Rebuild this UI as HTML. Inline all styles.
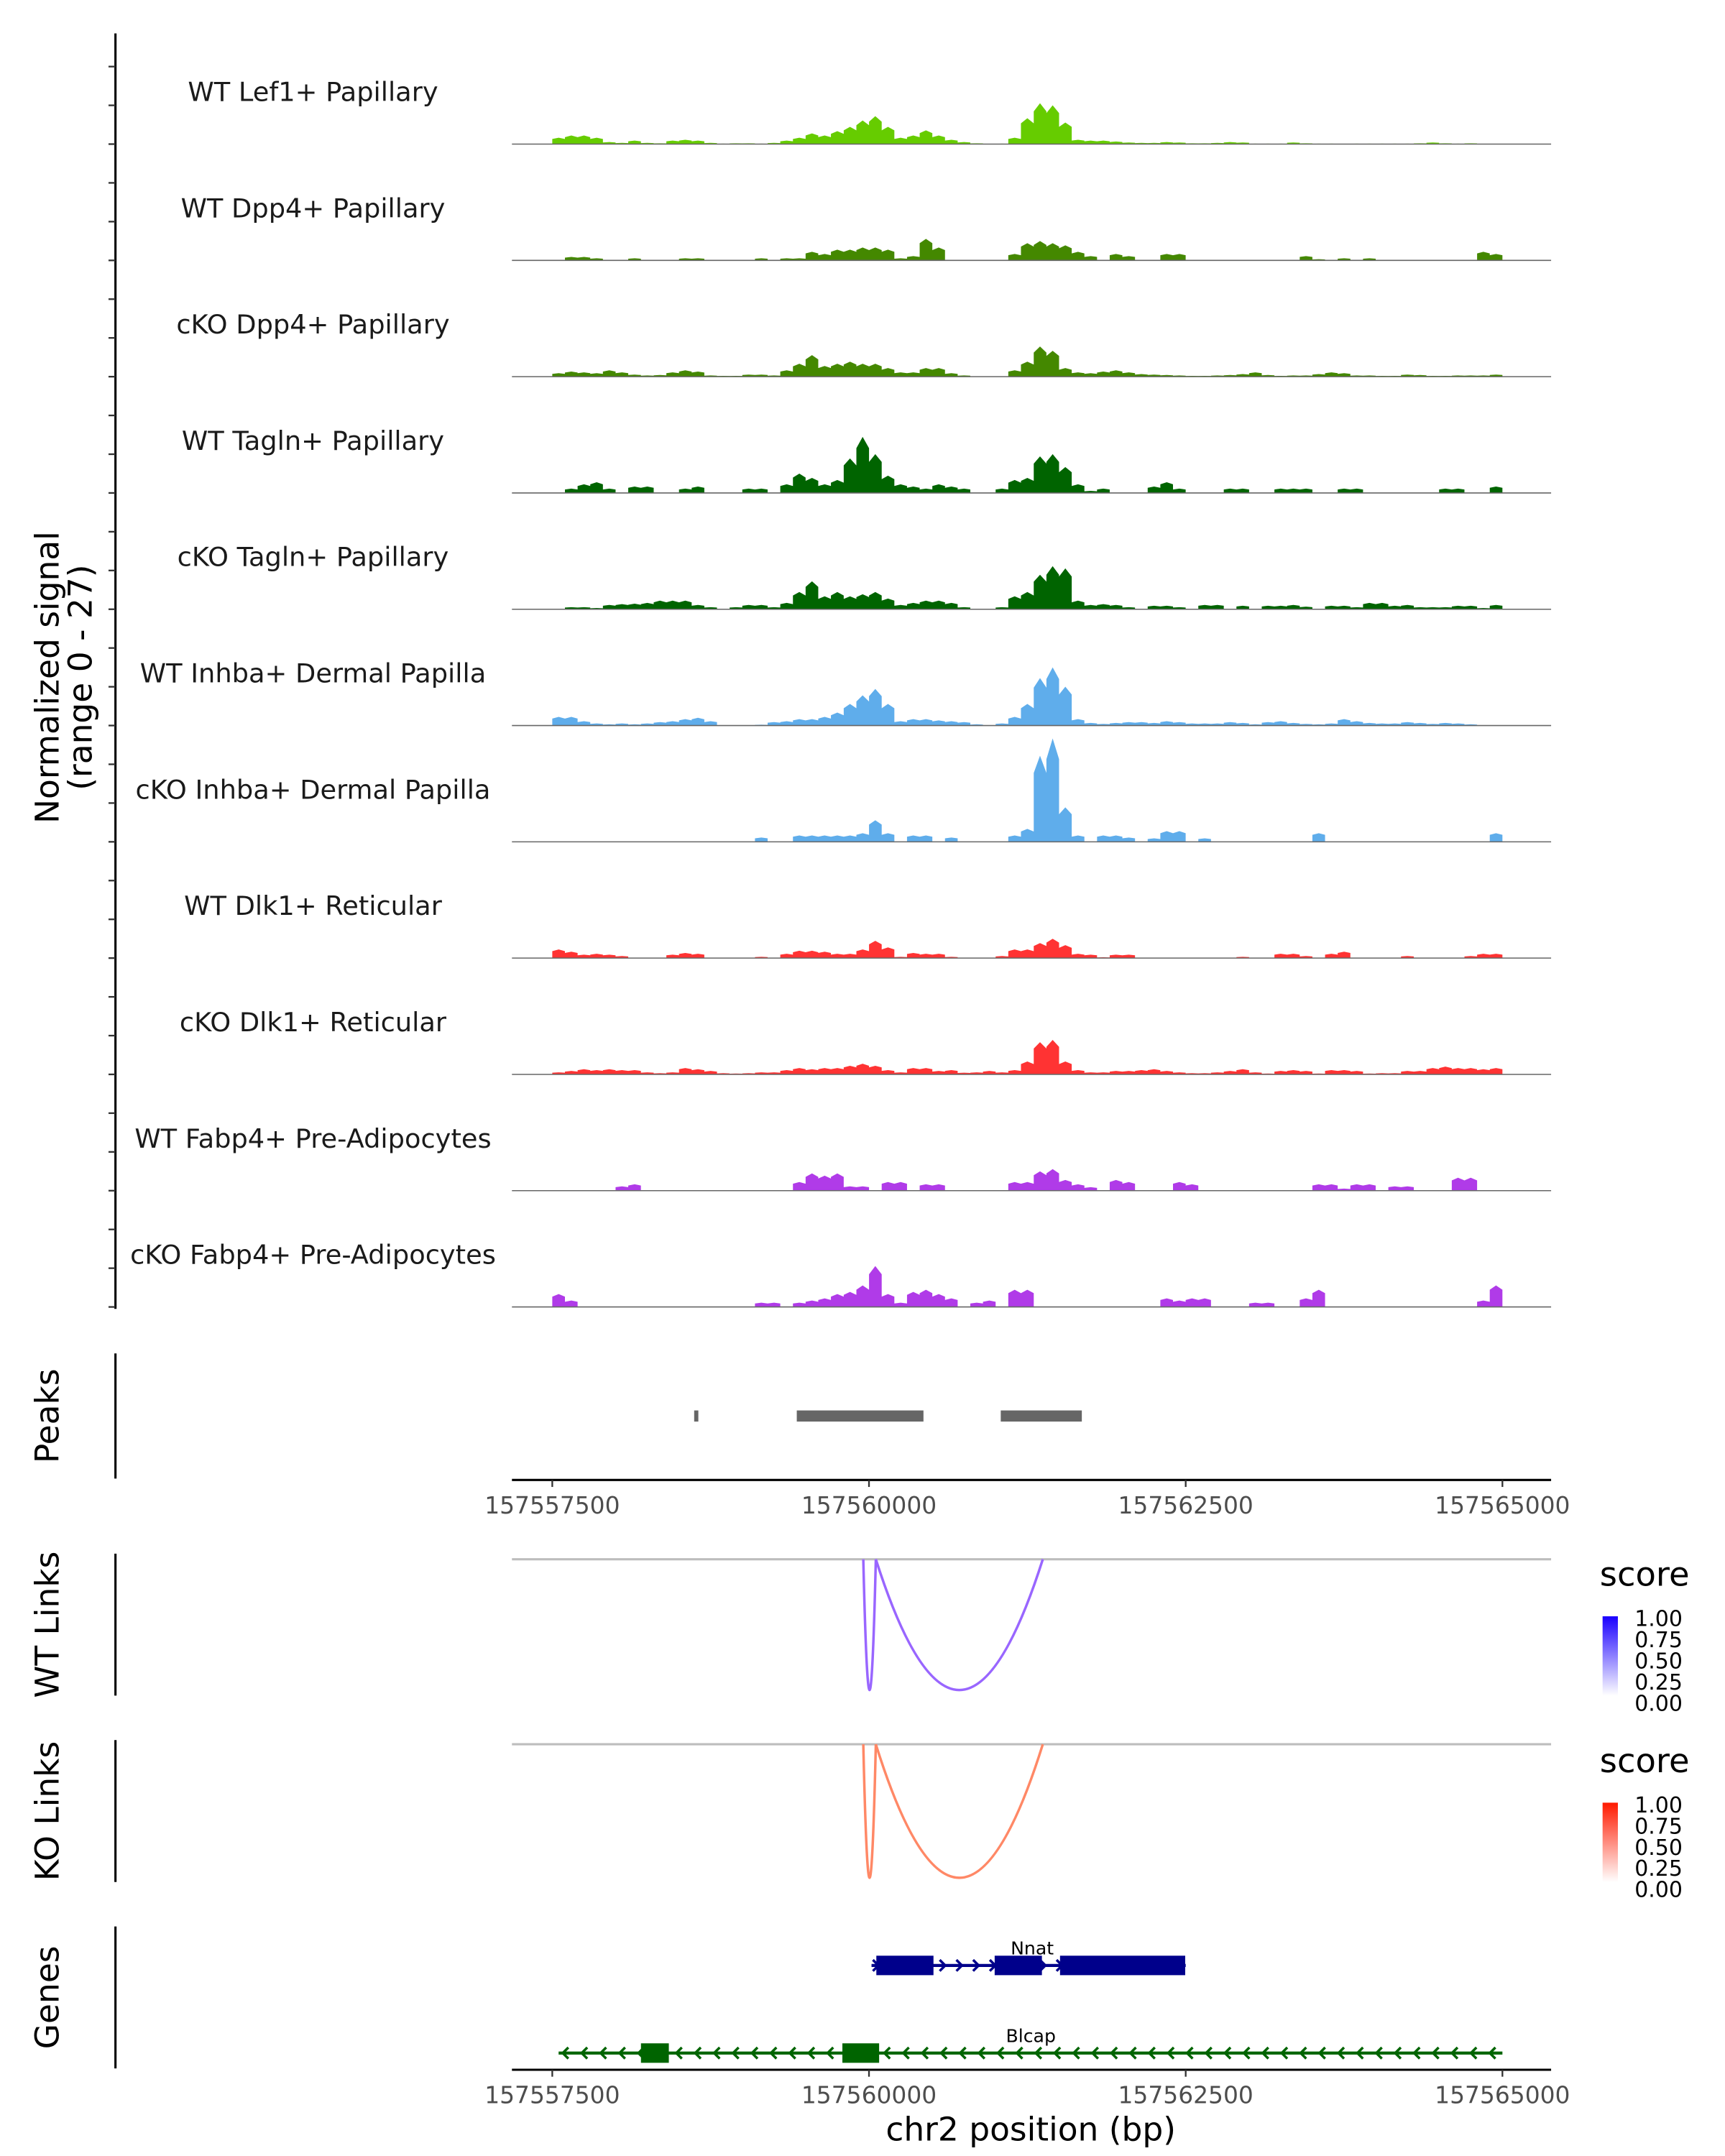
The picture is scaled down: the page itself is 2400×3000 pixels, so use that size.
<!DOCTYPE html>
<html><head><meta charset="utf-8"><style>
html,body{margin:0;padding:0;background:#fff;}
svg{display:block;font-family:"DejaVu Sans","Liberation Sans",sans-serif;}
</style></head><body>
<svg id="chart" xmlns="http://www.w3.org/2000/svg" width="2400" height="3000" viewBox="0 0 1240 1550">
<g id="tracks"></g>
<g id="yaxis"></g>
<text transform="translate(42,487) rotate(-90)" text-anchor="middle" font-size="23.5">Normalized signal</text>
<text transform="translate(66,487) rotate(-90)" text-anchor="middle" font-size="23.5">(range 0 - 27)</text>
<g id="peaks"></g>
<g id="links"></g>
<g id="genes"></g>
<text x="741" y="1539" text-anchor="middle" font-size="23.5">chr2 position (bp)</text>
</svg>
<script>
const trackNames = ["WT Lef1+ Papillary","WT Dpp4+ Papillary","cKO Dpp4+ Papillary","WT Tagln+ Papillary","cKO Tagln+ Papillary","WT Inhba+ Dermal Papilla","cKO Inhba+ Dermal Papilla","WT Dlk1+ Reticular","cKO Dlk1+ Reticular","WT Fabp4+ Pre-Adipocytes","cKO Fabp4+ Pre-Adipocytes"];
const trackColors = ["#66cc00","#448800","#448800","#006400","#006400","#5fadeb","#5fadeb","#ff3333","#ff3333","#b03be8","#b03be8"];
const binStart = 157557500;
const binSize = 100;
const sigLef1WT = [1.5,2,2,1.5,0.5,0.3,0.8,0.3,0.2,0.8,1,0.8,0.3,0.1,0.2,0.2,0.1,0.3,0.8,1.5,2.5,2,3,4,5.5,6.5,4,1.5,2,3.2,2,1,0.5,0.2,0,0.1,1.5,6,9.5,9,5,1,0.8,0.8,0.6,0.4,0.3,0.3,0.5,0.4,0.2,0.2,0.3,0.5,0.4,0.1,0.1,0.1,0.4,0.2,0.1,0.1,0,0.1,0.1,0.1,0.1,0.1,0.2,0.4,0.2,0.1,0.2,0,0];
const sigDpp4WT = [0,0.8,0.8,0.5,0,0,0.5,0,0,0,0.5,0.5,0,0,0,0,0.5,0,0.5,0.5,2,1.5,2.5,2.5,3,3,2.5,0.5,1,5,3,0,0,0,0,0,1.5,4,4.5,4,3.5,2,1,0,1.5,1,0,0,1.5,1.5,0,0,0,0,0,0,0,0,0,1,0.3,0,0.5,0,0.5,0,0,0,0,0,0,0,0,2,1.5];
const sigDpp4KO = [0.8,1.2,1,0.8,1.5,1,0.5,0.3,0.4,1,1.5,1.2,0.3,0.2,0.2,0.5,0.5,0.3,1.5,3,5,2.5,3,3.5,3,3,2,1,1,2,2,0.8,0.3,0,0,0.1,1.5,3.5,7,6,2,1,0.8,1.2,1.5,1,0.6,0.5,0.4,0.3,0.2,0.2,0.3,0.4,0.6,1,0.4,0.2,0.3,0.3,0.6,1,0.8,0.3,0.3,0.2,0.2,0.5,0.4,0.2,0.2,0.3,0.3,0.3,0.5];
const sigTaglnWT = [0,1,2,2.5,1,0,1.5,1.5,0,0,1,1.5,0,0,0,1,1,0,2,4.5,3.5,2,3,8,13,9,4,2,1.5,1,2,1.5,1,0,0,1,3,3.5,8.5,9,6,2,0.5,1,0,0,0,1.5,2.5,1,0,0,0,1,1,0,0,1,1,1,0,0,1,1,0,0,0,0,0,0,1,1,0,0,1.5];
const sigTaglnKO = [0,0.5,0.5,0.3,1,1.2,1.3,1.5,2,2,2,1,0.5,0,0.5,1,1,0.5,1.5,4,6.5,3,4,3,3.5,4,2.5,1,1.5,2,2,1.5,0.5,0,0,0.5,3,4,8,10,9.5,2,1,1.2,1,0.5,0,0.8,0.8,0.5,0,1,1,0,0.8,0,0.8,0.8,1,0.6,0,0.8,0.8,0.5,1.5,1.5,0.8,1,0.5,0.5,0.5,0.8,0.8,0.3,1];
const sigInhbaWT = [2,2,1,0.5,0.3,0.5,0.3,0.5,0.8,1,1.5,1.8,1,0,0,0,0.2,0.8,1,1.5,1.5,2,3,5,7,8.5,5,1,1.5,1.5,1.2,1,0.8,0.3,0,0.5,2,5,11,13.5,9,1.5,0.6,0.4,0.6,0.8,0.8,0.6,1,0.8,0.5,0.5,0.5,0.8,0.6,0.3,0.8,1,0.6,0.4,0.3,0.5,1.5,1,0.6,0.5,0.5,0.8,0.6,0.4,0.6,0.5,0.3,0,0];
const sigInhbaKO = [0,0,0,0,0,0,0,0,0,0,0,0,0,0,0,0,1,0,0,1.5,1.5,1.5,1.5,1.5,2,5,2,0,1.5,1.5,0,1,0,0,0,0,1.5,3,20,24,8,1.5,0,1.5,1.5,1,0,0.8,2.5,2.5,0,0.8,0,0,0,0,0,0,0,0,2,0,0,0,0,0,0,0,0,0,0,0,0,0,2];
const sigDlk1WT = [2,1.5,0.8,1,0.8,0.5,0,0,0,0.8,1.2,1,0,0,0,0,0.3,0,1,1.7,1.7,1.5,1,1,2,4,2.5,0.3,1.2,1,1,0.3,0,0,0,0.5,2,2,3.5,4.5,3,1,0.8,0.2,0.8,0.8,0,0,0,0,0,0,0,0,0.3,0,0,1,1,0.5,0,1,1.5,0,0,0,0,0.5,0,0,0,0,0.5,1,1];
const sigDlk1KO = [0.5,0.8,1.2,1,1.2,1,1,0.5,0.3,0.5,1.5,1.2,0.8,0.3,0.2,0.3,0.5,0.5,1,1.5,1.2,1.5,1.5,2,2.5,2,1,0.5,1.5,1.5,0.8,1,0.4,0.5,0.8,0.5,1,3,7.5,8,3,1,0.5,0.5,0.8,0.8,1,1.2,0.8,0.5,0.3,0.3,0.5,0.8,1.2,0.5,0.2,0.8,1,0.8,0.2,1,1,0.8,0.2,0.3,0.3,0.8,0.8,1.5,1.8,1.5,1.5,1.2,1.5];
const sigFabp4WT = [0,0,0,0,0,1,1.5,0,0,0,0,0,0,0,0,0,0,0,0,2,4,3.5,4,1,1,0,2,2,0,1.5,1.5,0,0,0,0,0,2,2,4.5,5,2.5,1.5,0.8,0,2.5,2,0,0,0,2,1.5,0,0,0,0,0,0,0,0,0,1.5,1.5,0.5,1.5,1.5,0,1,1,0,0,0,3,3,0,0];
const sigFabp4KO = [3,1.5,0,0,0,0,0,0,0,0,0,0,0,0,0,0,1,1,0,1,1.5,2,3,3.5,5,9.5,3,1,3.5,4,3,2,0,1,1.5,0,4,4,0,0,0,0,0,0,0,0,0,0,2,1.5,2,2,0,0,0,1,1,0,0,2,4,0,0,0,0,0,0,0,0,0,0,0,0,1.5,5];
const signals = [sigLef1WT,sigDpp4WT,sigDpp4KO,sigTaglnWT,sigTaglnKO,sigInhbaWT,sigInhbaKO,sigDlk1WT,sigDlk1KO,sigFabp4WT,sigFabp4KO];
const xTicks = [157557500,157560000,157562500,157565000];
const peakStarts = [157558620,157559430,157561040];
const peakEnds = [157558650,157560430,157561680];
const wtLinkStarts = [157559955,157560054];
const wtLinkEnds = [157560054,157561372];
const wtLinkScores = [0.6,0.6];
const koLinkStarts = [157559955,157560054];
const koLinkEnds = [157560054,157561372];
const koLinkScores = [0.5,0.5];
const legendTicks = ["1.00","0.75","0.50","0.25","0.00"];
const nnatExonStarts = [157560058,157560992,157561508];
const nnatExonEnds = [157560509,157561365,157562496];
const blcapExonStarts = [157558200,157559790];
const blcapExonEnds = [157558420,157560080];

const NS="http://www.w3.org/2000/svg";
const X0=368,X1=1115;
const xs = bp => 397 + (bp-157557500)*(1080-397)/7500;
const trackTop=20, trackH=83.6, pxPerUnit=83.6/27;
function mk(tag,attrs,parent){const e=document.createElementNS(NS,tag);for(const k in attrs)e.setAttribute(k,attrs[k]);parent.appendChild(e);return e;}

const gT=document.getElementById('tracks');
signals.forEach((arr,t)=>{
  const base=trackTop+trackH*(t+1);
  const g=mk('g',{},gT);
  
  
  let d='';
  let open=false;
  arr.forEach((v,i)=>{
    const xa=xs(binStart+i*binSize), xb=xs(binStart+(i+1)*binSize);
    const y=base-v*pxPerUnit;
    if(v>0){
      if(!open){d+='M'+xa.toFixed(1)+','+base+' ';open=true;}
      d+='L'+xa.toFixed(1)+','+(base-(v*0.8)*pxPerUnit).toFixed(1)+' L'+((xa+xb)/2).toFixed(1)+','+y.toFixed(1)+' L'+xb.toFixed(1)+','+(base-(v*0.8)*pxPerUnit).toFixed(1)+' ';
    }else if(open){d+='L'+xa.toFixed(1)+','+base+' Z ';open=false;}
  });
  if(open){d+='L'+xs(binStart+arr.length*binSize).toFixed(1)+','+base+' Z';}
  const p=mk('path',{d:d,fill:trackColors[t]},g);
  
  
  const bl=mk('line',{x1:X0,x2:X1,y1:base,y2:base,stroke:'#666','stroke-width':0.8},g);
  
  
  const lb=mk('text',{x:225,y:base-31,'text-anchor':'middle','font-size':19,fill:'#1a1a1a'},g);
  
  
  lb.textContent=trackNames[t];
});
const gY=document.getElementById('yaxis');
mk('line',{x1:83,x2:83,y1:24,y2:941,stroke:'#000','stroke-width':1.6},gY);
for(let y=trackTop+trackH*11;y>=trackTop+5;y-=trackH/3){mk('line',{x1:78,x2:83,y1:y,y2:y,stroke:'#333','stroke-width':1.2},gY);}

function vaxis(g,y1,y2,label){
  mk('line',{x1:83,x2:83,y1:y1,y2:y2,stroke:'#000','stroke-width':1.6},g);
  const t=mk('text',{transform:'translate(42,'+((y1+y2)/2)+') rotate(-90)','text-anchor':'middle','font-size':23.5},g);
  
  
  t.textContent=label;
}
function xaxis(g,y){
  mk('line',{x1:X0,x2:X1,y1:y,y2:y,stroke:'#000','stroke-width':1.6},g);
  xTicks.forEach(v=>{
    mk('line',{x1:xs(v),x2:xs(v),y1:y,y2:y+5,stroke:'#333','stroke-width':1.2},g);
    const t=mk('text',{x:xs(v),y:y+24,'text-anchor':'middle','font-size':17,fill:'#4d4d4d'},g);
    
    
    t.textContent=String(v);
  });
}
const gP=document.getElementById('peaks');
vaxis(gP,973,1063,'Peaks');
peakStarts.forEach((s,i)=>{
  const r=mk('rect',{x:xs(s),y:1014,width:Math.max(3,xs(peakEnds[i])-xs(s)),height:8,fill:'#666'},gP);
  
  
});
xaxis(gP,1064);

const gL=document.getElementById('links');
function linkPanel(y1,y2,lineY,depth,starts,ends,scores,col,gradCol,label,legY,id){
  const g=mk('g',{},gL);
  
  
  vaxis(g,y1,y2,label);
  mk('line',{x1:X0,x2:X1,y1:lineY,y2:lineY,stroke:'#bdbdbd','stroke-width':1.6},g);
  starts.forEach((s,i)=>{
    const a=xs(s),b=xs(ends[i]);
    const yc=lineY+depth*2;
    const p=mk('path',{d:'M'+a+','+lineY+' Q'+((a+b)/2)+','+yc+' '+b+','+lineY,fill:'none',stroke:col,'stroke-width':1.8},g);
    
    
  });
  const gid='grad'+id;
  const defs=mk('defs',{},g);
  const lg=mk('linearGradient',{id:gid,x1:0,y1:0,x2:0,y2:1},defs);
  mk('stop',{offset:0,'stop-color':gradCol},lg);
  mk('stop',{offset:1,'stop-color':'#ffffff'},lg);
  const tt=mk('text',{x:1150,y:legY,'font-size':24},g);
  
  
  tt.textContent='score';
  const cb=mk('rect',{x:1152,y:legY+22,width:11,height:57,fill:'url(#'+gid+')'},g);
  
  
  legendTicks.forEach((l,i)=>{
    const t=mk('text',{x:1175,y:legY+29+i*15.2,'font-size':15.5},g);
    
    
    t.textContent=l;
  });
}
linkPanel(1117,1219,1121,94,wtLinkStarts,wtLinkEnds,wtLinkScores,'#9966ff','#1a00ff','WT Links',1140,'wt-links');
linkPanel(1251,1353,1254,96,koLinkStarts,koLinkEnds,koLinkScores,'#ff8866','#ff1a00','KO Links',1274,'ko-links');

const gG=document.getElementById('genes');
vaxis(gG,1385,1487,'Genes');
function gene(name,y,start,end,exS,exE,col,dir,labelX){
  const g=mk('g',{},gG);
  
  
  mk('line',{x1:xs(start),x2:xs(end),y1:y,y2:y,stroke:col,'stroke-width':2.2},g);
  for(let x=xs(start)+4;x<xs(end)-2;x+= (dir>0?12:13.6)){
    const d=dir>0?'M'+(x-3)+','+(y-4)+' L'+(x+1)+','+y+' L'+(x-3)+','+(y+4):'M'+(x+3)+','+(y-4)+' L'+(x-1)+','+y+' L'+(x+3)+','+(y+4);
    mk('path',{d:d,fill:'none',stroke:col,'stroke-width':1.8},g);
  }
  exS.forEach((s,i)=>{
    const r=mk('rect',{x:xs(s),y:y-7,width:xs(exE[i])-xs(s),height:14,fill:col},g);
    
    
  });
  const t=mk('text',{x:labelX,y:y-8,'text-anchor':'middle','font-size':13},g);
  
  
  t.textContent=name;
}
gene('Nnat',1413,157560020,157562500,nnatExonStarts,nnatExonEnds,'#00008b',1,742);
gene('Blcap',1476,157557550,157565000,blcapExonStarts,blcapExonEnds,'#006400',-1,741);
xaxis(gG,1488);
</script>
</body></html>
